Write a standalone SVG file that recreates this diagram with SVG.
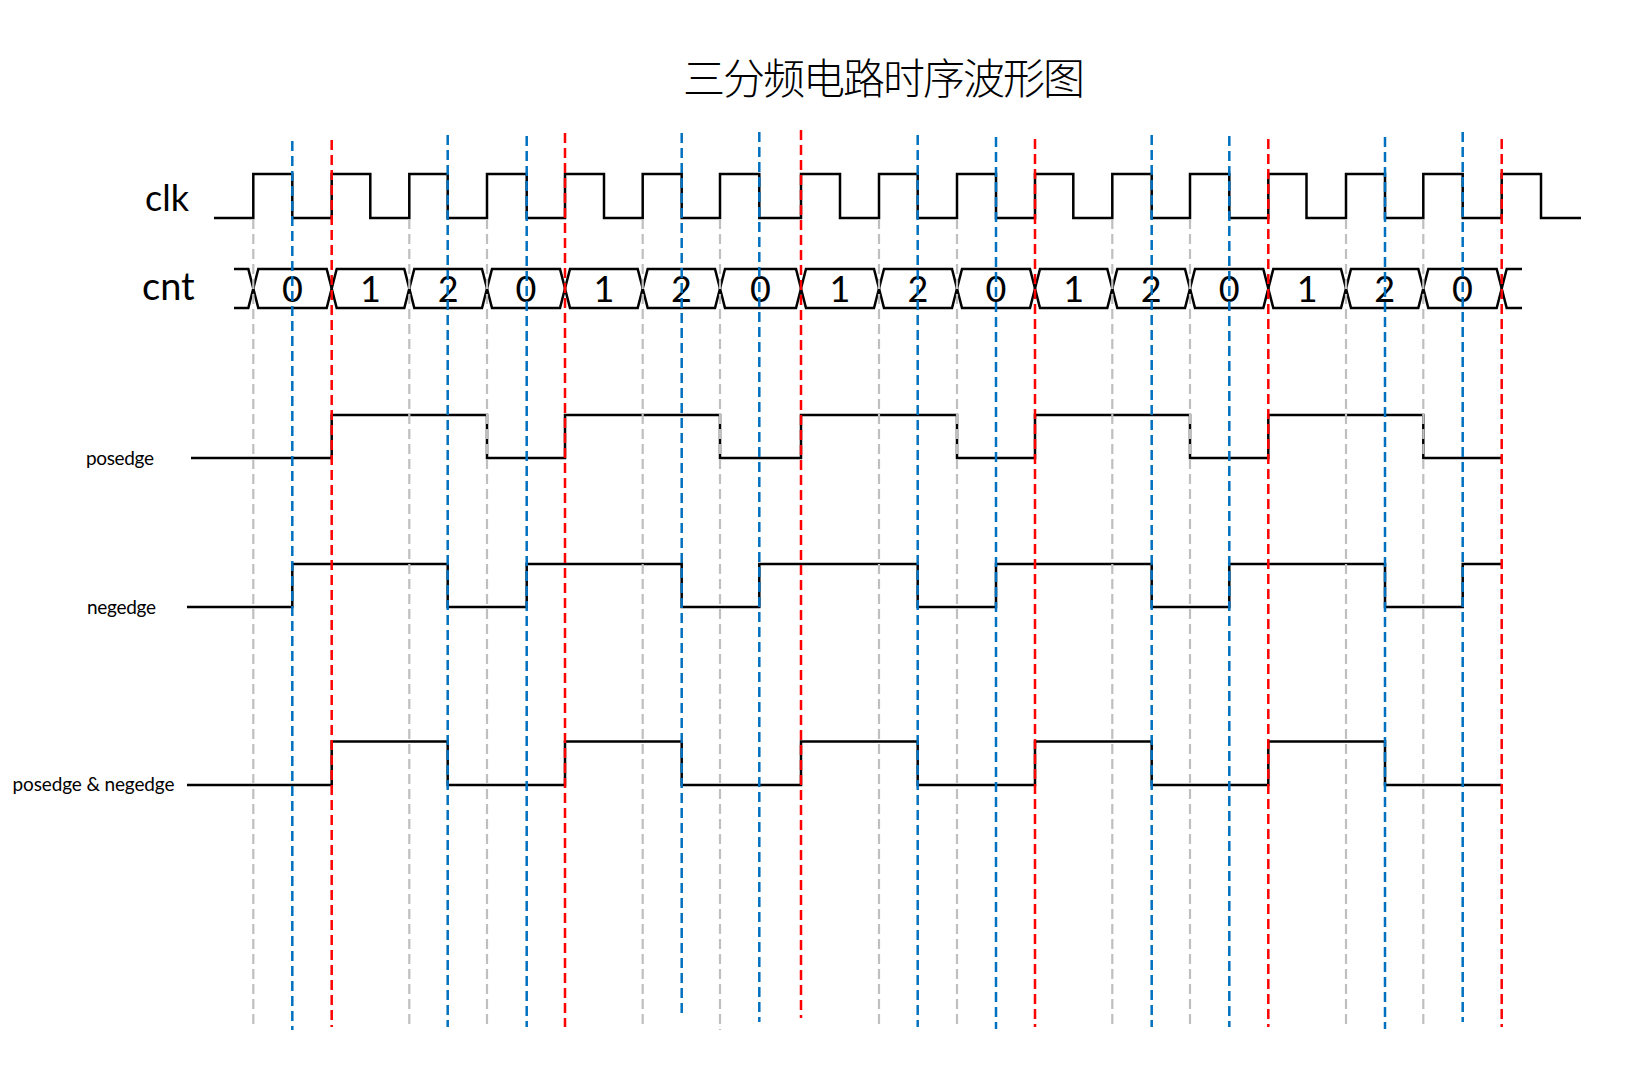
<svg xmlns="http://www.w3.org/2000/svg" width="1638" height="1087" viewBox="0 0 1638 1087">
<style>
.wave{fill:none;stroke:#000;stroke-width:2.5;stroke-linejoin:miter}
.bus polygon,.bus path{fill:none;stroke:#000;stroke-width:2.5;stroke-linejoin:miter}
.g{stroke:#BFBFBF;stroke-width:2.2;stroke-dasharray:10 5}
.b{stroke:#0070C0;stroke-width:2.5;stroke-dasharray:10 5}
.r{stroke:#FF0000;stroke-width:2.5;stroke-dasharray:10 5}
.lbl{font-family:Lato,"Liberation Sans",sans-serif;fill:#000}
.big{font-size:36px}
.small{font-size:19px}
.dig{font-family:Lato,"Liberation Sans",sans-serif;font-size:36px;text-anchor:middle;fill:#000}
.title{font-family:"Noto Sans CJK SC",sans-serif;font-size:42px;letter-spacing:-2px;fill:#000;font-weight:300}
</style>
<rect width="1638" height="1087" fill="#fff"/>
<g id="title"><text class="title" x="683" y="94">三分频电路时序波形图</text></g>

<g id="clk">
<text class="lbl big" x="145" y="210.5">clk</text>
<path class="wave" d="M214,218 H253.3 V174 H292.3 V218 H331.7 V174 H370.3 V218 H409.3 V174 H447.7 V218 H487 V174 H526.7 V218 H565 V174 H604 V218 H642.7 V174 H681.7 V218 H720 V174 H759.3 V218 H801 V174 H840 V218 H879 V174 H917.7 V218 H957 V174 H996 V218 H1035 V174 H1073.3 V218 H1112.3 V174 H1151.7 V218 H1190 V174 H1229.3 V218 H1268.3 V174 H1306.5 V218 H1346 V174 H1385 V218 H1423.3 V174 H1462.7 V218 H1501.7 V174 H1541 V218 H1581"/>
</g>

<g id="cnt">
<text class="lbl" font-size="38" x="142" y="299.5">cnt</text>
<g class="bus">
<path d="M234,269 H248.3 L253.3,288.5 L248.3,308 H234"/>
<path d="M1522,269 H1506.7 L1501.7,288.5 L1506.7,308 H1522"/>
<polygon points="253.3,288.5 258.3,269 326.7,269 331.7,288.5 326.7,308 258.3,308"/>
<polygon points="331.7,288.5 336.7,269 404.3,269 409.3,288.5 404.3,308 336.7,308"/>
<polygon points="409.3,288.5 414.3,269 482,269 487,288.5 482,308 414.3,308"/>
<polygon points="487,288.5 492,269 560,269 565,288.5 560,308 492,308"/>
<polygon points="565,288.5 570,269 637.7,269 642.7,288.5 637.7,308 570,308"/>
<polygon points="642.7,288.5 647.7,269 715,269 720,288.5 715,308 647.7,308"/>
<polygon points="720,288.5 725,269 796,269 801,288.5 796,308 725,308"/>
<polygon points="801,288.5 806,269 874,269 879,288.5 874,308 806,308"/>
<polygon points="879,288.5 884,269 952,269 957,288.5 952,308 884,308"/>
<polygon points="957,288.5 962,269 1030,269 1035,288.5 1030,308 962,308"/>
<polygon points="1035,288.5 1040,269 1107.3,269 1112.3,288.5 1107.3,308 1040,308"/>
<polygon points="1112.3,288.5 1117.3,269 1185,269 1190,288.5 1185,308 1117.3,308"/>
<polygon points="1190,288.5 1195,269 1263.3,269 1268.3,288.5 1263.3,308 1195,308"/>
<polygon points="1268.3,288.5 1273.3,269 1341,269 1346,288.5 1341,308 1273.3,308"/>
<polygon points="1346,288.5 1351,269 1418.3,269 1423.3,288.5 1418.3,308 1351,308"/>
<polygon points="1423.3,288.5 1428.3,269 1496.7,269 1501.7,288.5 1496.7,308 1428.3,308"/>
</g>
<text class="dig" x="292.5" y="301.5">0</text>
<text class="dig" x="370.5" y="301.5">1</text>
<text class="dig" x="448.2" y="301.5">2</text>
<text class="dig" x="526" y="301.5">0</text>
<text class="dig" x="603.9" y="301.5">1</text>
<text class="dig" x="681.4" y="301.5">2</text>
<text class="dig" x="760.5" y="301.5">0</text>
<text class="dig" x="840" y="301.5">1</text>
<text class="dig" x="918" y="301.5">2</text>
<text class="dig" x="996" y="301.5">0</text>
<text class="dig" x="1073.7" y="301.5">1</text>
<text class="dig" x="1151.2" y="301.5">2</text>
<text class="dig" x="1229.2" y="301.5">0</text>
<text class="dig" x="1307.2" y="301.5">1</text>
<text class="dig" x="1384.7" y="301.5">2</text>
<text class="dig" x="1462.5" y="301.5">0</text>
</g>

<g id="posedge">
<text class="lbl small" x="86" y="464.5" textLength="68">posedge</text>
<path class="wave" d="M191,458 H331.7 V415 H487 V458 H565 V415 H720 V458 H801 V415 H957 V458 H1035 V415 H1190 V458 H1268.3 V415 H1423.3 V458 H1501.7"/>
</g>

<g id="negedge">
<text class="lbl small" x="87" y="614" textLength="69">negedge</text>
<path class="wave" d="M187,607 H292.3 V564 H447.7 V607 H526.7 V564 H681.7 V607 H759.3 V564 H917.7 V607 H996 V564 H1151.7 V607 H1229.3 V564 H1385 V607 H1462.7 V564 H1501.7"/>
</g>

<g id="posedge_and_negedge">
<text class="lbl small" x="12.5" y="791" textLength="162">posedge &amp; negedge</text>
<path class="wave" d="M187,785 H331.7 V741.5 H447.7 V785 H565 V741.5 H681.7 V785 H801 V741.5 H917.7 V785 H1035 V741.5 H1151.7 V785 H1268.3 V741.5 H1385 V785 H1501.7"/>
</g>

<g id="connectors">
<line class="g" x1="253.3" y1="219" x2="253.3" y2="1027"/>
<line class="g" x1="409.3" y1="219" x2="409.3" y2="1027"/>
<line class="g" x1="487" y1="219" x2="487" y2="1027"/>
<line class="g" x1="642.7" y1="219" x2="642.7" y2="1027"/>
<line class="g" x1="720" y1="219" x2="720" y2="1030"/>
<line class="g" x1="879" y1="219" x2="879" y2="1027"/>
<line class="g" x1="957" y1="219" x2="957" y2="1027"/>
<line class="g" x1="1112.3" y1="219" x2="1112.3" y2="1027"/>
<line class="g" x1="1190" y1="219" x2="1190" y2="1027"/>
<line class="g" x1="1346" y1="219" x2="1346" y2="1027"/>
<line class="g" x1="1423.3" y1="219" x2="1423.3" y2="1027"/>

<line class="b" x1="292.3" y1="141" x2="292.3" y2="1030"/>
<line class="b" x1="447.7" y1="135" x2="447.7" y2="1027"/>
<line class="b" x1="526.7" y1="136" x2="526.7" y2="1027"/>
<line class="b" x1="681.7" y1="133" x2="681.7" y2="1013"/>
<line class="b" x1="759.3" y1="132" x2="759.3" y2="1022"/>
<line class="b" x1="917.7" y1="135" x2="917.7" y2="1027"/>
<line class="b" x1="996" y1="137" x2="996" y2="1029"/>
<line class="b" x1="1151.7" y1="135" x2="1151.7" y2="1027"/>
<line class="b" x1="1229.3" y1="136" x2="1229.3" y2="1027"/>
<line class="b" x1="1385" y1="137" x2="1385" y2="1029"/>
<line class="b" x1="1462.7" y1="132" x2="1462.7" y2="1022"/>

<line class="r" x1="331.7" y1="140" x2="331.7" y2="1027"/>
<line class="r" x1="565" y1="133" x2="565" y2="1027"/>
<line class="r" x1="801" y1="130" x2="801" y2="1018"/>
<line class="r" x1="1035" y1="139" x2="1035" y2="1027"/>
<line class="r" x1="1268.3" y1="139" x2="1268.3" y2="1027"/>
<line class="r" x1="1501.7" y1="139" x2="1501.7" y2="1027"/>
</g>
</svg>
